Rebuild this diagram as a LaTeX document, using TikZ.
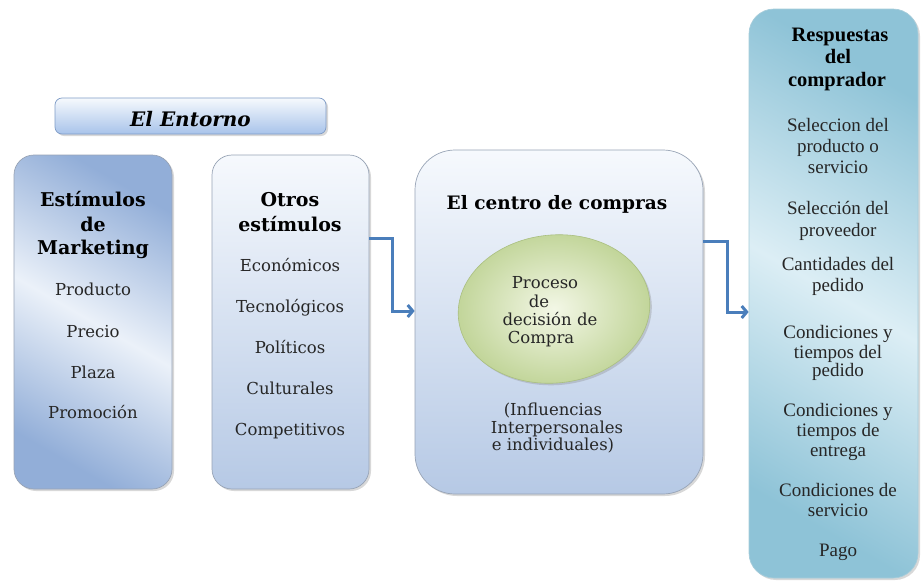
\documentclass[tikz,border=0pt]{standalone}
\usepackage{fontspec}
\setmainfont{DejaVu Serif}
\newfontfamily\tnr{Liberation Serif}
\usetikzlibrary{shadows,arrows.meta,shapes.geometric}
\definecolor{txt}{HTML}{262626}
\definecolor{edgec}{HTML}{98A4B6}
\definecolor{bluedark}{HTML}{92AED8}
\definecolor{bluelight}{HTML}{EBF1F9}
\definecolor{paletop}{HTML}{F6F9FD}
\definecolor{palebot}{HTML}{B6C9E5}
\definecolor{entbot}{HTML}{A8C3EA}
\definecolor{entedge}{HTML}{7F9CC7}
\definecolor{tealedge}{HTML}{A6CCDA}
\definecolor{tealdark}{HTML}{8EC3D7}
\definecolor{teallight}{HTML}{DCEEF5}
\definecolor{arrowc}{HTML}{4A7EBB}
\definecolor{greenin}{HTML}{F3F7E6}
\definecolor{greenout}{HTML}{C0D497}
\definecolor{greenedge}{HTML}{AABF80}
\tikzset{
  box/.style={rectangle, draw=edgec, line width=0.7pt, inner sep=0pt,
    drop shadow={opacity=0.3, shadow xshift=2pt, shadow yshift=-2pt}},
  body/.style={anchor=base, inner sep=0pt, text=txt, font=\fontsize{16.5}{19}\selectfont},
  head/.style={anchor=base, inner sep=0pt, text=black, font=\bfseries\fontsize{19}{22}\selectfont},
  rbody/.style={anchor=base, inner sep=0pt, text=txt, font=\tnr\fontsize{19}{21}\selectfont},
  rhead/.style={anchor=base, inner sep=0pt, text=black, font=\tnr\bfseries\fontsize{20.5}{22}\selectfont},
  arr/.style={draw=arrowc, line width=3pt, -{Straight Barb[length=5pt,width=12pt]}}
}
\begin{document}
\begin{tikzpicture}[x=1pt,y=-1pt]
\useasboundingbox (0,0) rectangle (921,582);
\fill[white] (0,0) rectangle (921,582);

% El Entorno
\node[box, draw=entedge, rounded corners=7pt, minimum width=271pt, minimum height=36pt,
  top color=paletop, bottom color=entbot] (entorno) at (190.5,116) {};
\node[anchor=base, inner sep=0pt, font=\bfseries\itshape\fontsize{20}{22}\selectfont] (entornot) at (190.5,126) {El Entorno};

% Estimulos de Marketing
\node[box, rounded corners=20pt, minimum width=158pt, minimum height=334pt,
  left color=bluedark, right color=bluedark, middle color=bluelight, shading angle=-30] (estim) at (93,322) {};
% Otros estimulos
\node[box, rounded corners=20pt, minimum width=157pt, minimum height=334pt,
  top color=paletop, bottom color=palebot] (otros) at (290.5,322) {};
% Centro de compras
\node[box, rounded corners=40pt, minimum width=288pt, minimum height=344pt,
  top color=paletop, bottom color=palebot] (centro) at (559,322) {};
% Respuestas
\node[box, draw=tealedge, rounded corners=25pt, minimum width=169pt, minimum height=569pt,
  left color=tealdark, right color=tealdark, middle color=teallight, shading angle=-30] (resp) at (833.5,293.5) {};

% Ellipse
\node[ellipse, draw=greenedge, line width=0.6pt, minimum width=192pt, minimum height=148pt,
  inner color=greenin, outer color=greenout, rotate=6,
  drop shadow={opacity=0.3, shadow xshift=2pt, shadow yshift=-2pt}] (elli) at (554,309) {};

% Arrows
\draw[arr] (otros.east |- 0,238) -- (392,238) |- (centro.west |- 0,311);
\draw[arr] (centro.east |- 0,241) -- (727,241) |- (resp.west |- 0,312);

% Estimulos text
\node[head] (e1) at (93,206) {Estímulos};
\node[head] (e2) at (93,231) {de};
\node[head] (e3) at (93,254) {Marketing};
\node[body] (e4) at (93,295) {Producto};
\node[body] (e5) at (93,337) {Precio};
\node[body] (e6) at (93,378) {Plaza};
\node[body] (e7) at (93,418) {Promoción};

% Otros text
\node[head] (o1) at (290,206) {Otros};
\node[head] (o2) at (290,231) {estímulos};
\node[body] (o3) at (290,271) {Económicos};
\node[body] (o4) at (290,312) {Tecnológicos};
\node[body] (o5) at (290,353) {Políticos};
\node[body] (o6) at (290,394) {Culturales};
\node[body] (o7) at (290,435) {Competitivos};

% Centro text
\node[head, font=\bfseries\fontsize{18.5}{22}\selectfont] (c1) at (557,209) {El centro de compras};
\node[body] (p1) at (545,288) {Proceso};
\node[body] (p2) at (539,307) {de};
\node[body] (p3) at (550,325) {decisión de};
\node[body] (p4) at (541,343) {Compra};
\node[body] (i1) at (553,415) {(Influencias};
\node[body] (i2) at (557,433) {Interpersonales};
\node[body] (i3) at (553,450) {e individuales)};

% Respuestas text
\node[rhead] (r1) at (840,41) {Respuestas};
\node[rhead] (r2) at (838,63) {del};
\node[rhead] (r3) at (837,86) {comprador};
\node[rbody] (r4) at (838,131) {Seleccion del};
\node[rbody] (r5) at (838,152) {producto o};
\node[rbody] (r6) at (838,173) {servicio};
\node[rbody] (r7) at (838,214) {Selección del};
\node[rbody] (r8) at (838,236) {proveedor};
\node[rbody] (r9) at (838,270) {Cantidades del};
\node[rbody] (r10) at (838,291) {pedido};
\node[rbody] (r11) at (838,338) {Condiciones y};
\node[rbody] (r12) at (838,358) {tiempos del};
\node[rbody] (r13) at (838,376) {pedido};
\node[rbody] (r14) at (838,416) {Condiciones y};
\node[rbody] (r15) at (838,436) {tiempos de};
\node[rbody] (r16) at (838,456) {entrega};
\node[rbody] (r17) at (838,496) {Condiciones de};
\node[rbody] (r18) at (838,516) {servicio};
\node[rbody] (r19) at (838,556) {Pago};
\end{tikzpicture}
\end{document}
